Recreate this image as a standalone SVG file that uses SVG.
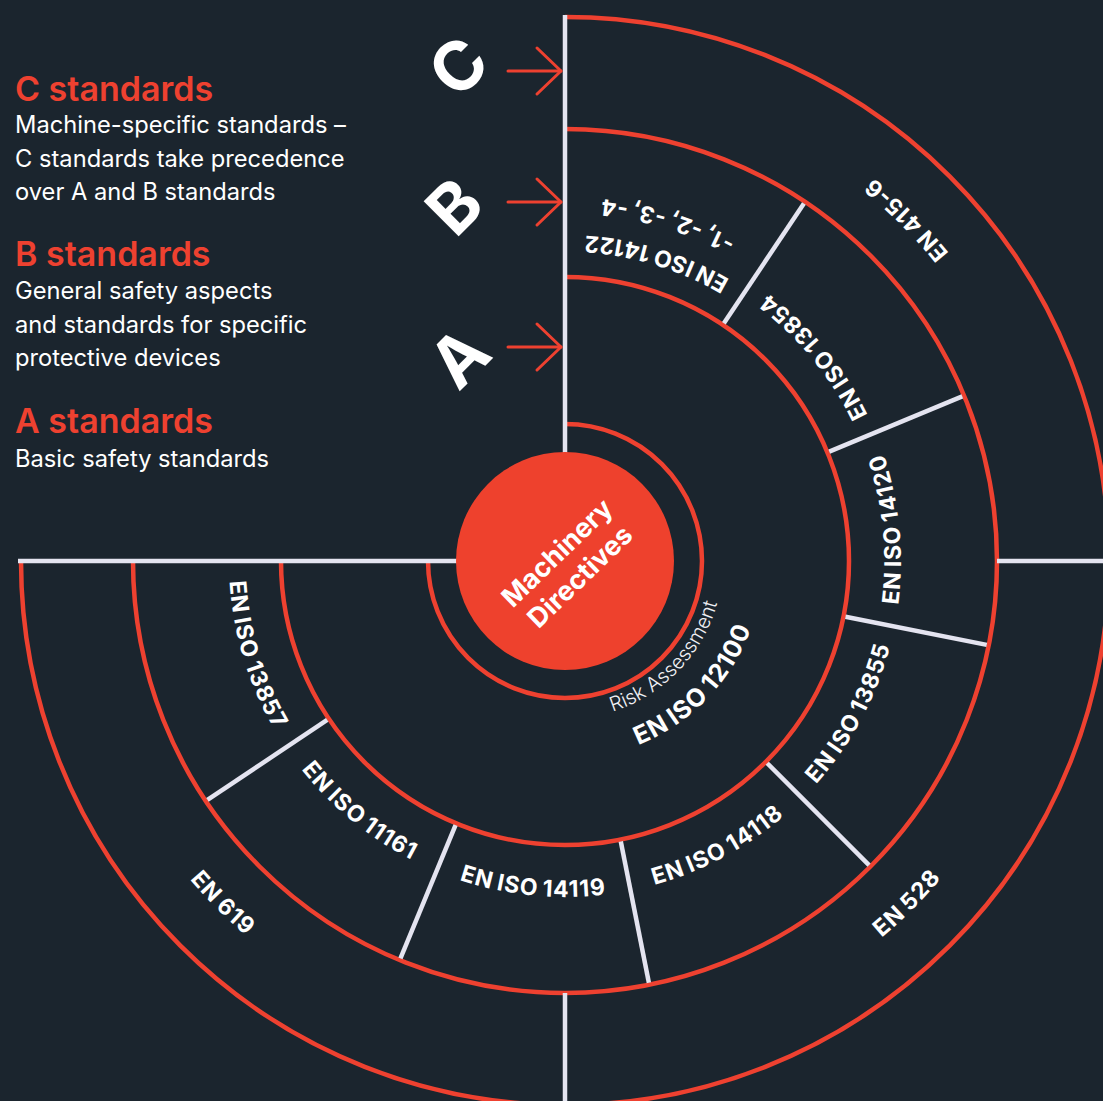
<svg xmlns="http://www.w3.org/2000/svg" xmlns:xlink="http://www.w3.org/1999/xlink" width="1103" height="1101" viewBox="0 0 1103 1101">
  <style>
    .ring { fill: none; stroke: #ee4130; stroke-width: 4.5; }
    .div { stroke: #e4e4f0; stroke-width: 4.5; stroke-linecap: butt; }
    .arrow { fill: none; stroke: #ee4130; stroke-width: 3; stroke-linecap: round; stroke-linejoin: round; }
    .head { font-family: Inter, "Liberation Sans", sans-serif; font-weight: 600; font-size: 34px; fill: #ee4130; }
    .body { font-family: Inter, "Liberation Sans", sans-serif; font-weight: 400; font-size: 23.7px; fill: #ffffff; }
    .big { font-family: Inter, "Liberation Sans", sans-serif; font-weight: 700; font-size: 68px; fill: #ffffff; text-anchor: middle; }
    .lbl { font-family: Inter, "Liberation Sans", sans-serif; font-weight: 700; font-size: 23px; fill: #ffffff; text-anchor: middle; letter-spacing: 1px; word-spacing: -2px; }
    .sub { font-family: Inter, "Liberation Sans", sans-serif; font-weight: 300; font-size: 20px; fill: #f0f0f4; text-anchor: middle; }
    .core { font-family: Inter, "Liberation Sans", sans-serif; font-weight: 700; font-size: 27px; fill: #ffffff; text-anchor: middle; }
  </style>
  <defs>
    <!-- arcs through the top point (0,-r), running counter-clockwise; rotated into place per label -->
    <path id="r158" d="M 136.83 -79 A 158 158 0 0 0 -136.83 -79"/>
    <path id="r198" d="M 171.47 -99 A 198 198 0 0 0 -171.47 -99"/>
    <path id="r326" d="M 282.32 -163 A 326 326 0 0 0 -282.32 -163"/>
    <path id="r336" d="M 290.98 -168 A 336 336 0 0 0 -290.98 -168"/>
    <path id="r364" d="M 315.23 -182 A 364 364 0 0 0 -315.23 -182"/>
    <path id="r492" d="M 426.08 -246 A 492 492 0 0 0 -426.08 -246"/>
  </defs>

  <rect width="1103" height="1101" fill="#1b252e"/>

  <!-- legend -->
  <g id="legend">
    <text class="head" x="15" y="101">C standards</text>
    <text class="body" x="15" y="133">Machine-specific standards –</text>
    <text class="body" x="15" y="167">C standards take precedence</text>
    <text class="body" x="15" y="200">over A and B standards</text>
    <text class="head" x="15" y="266">B standards</text>
    <text class="body" x="15" y="299">General safety aspects</text>
    <text class="body" x="15" y="333">and standards for specific</text>
    <text class="body" x="15" y="366">protective devices</text>
    <text class="head" x="15" y="433">A standards</text>
    <text class="body" x="15" y="467">Basic safety standards</text>
  </g>

  <!-- three-quarter rings -->
  <g id="rings">
    <path class="ring" d="M 565 424 A 137 137 0 1 1 428 561"/>
    <path class="ring" d="M 565 277 A 284 284 0 1 1 281 561"/>
    <path class="ring" d="M 565 129 A 432 432 0 1 1 133 561"/>
    <path class="ring" d="M 565 17 A 544 544 0 1 1 21 561"/>
  </g>

  <!-- connectors: axis lines, segment dividers and level arrows -->
  <g id="connectors">
    <line class="div" x1="565" y1="15" x2="565" y2="453"/>
    <line class="div" x1="18" y1="561" x2="457" y2="561"/>
    <line class="div" x1="997" y1="561" x2="1103" y2="561"/>
    <line class="div" x1="565" y1="993" x2="565" y2="1101"/>
    <g transform="translate(565 561)">
      <line class="div" x1="0" y1="-286" x2="0" y2="-430" transform="rotate(33.75)"/>
      <line class="div" x1="0" y1="-286" x2="0" y2="-430" transform="rotate(67.5)"/>
      <line class="div" x1="0" y1="-286" x2="0" y2="-430" transform="rotate(101.25)"/>
      <line class="div" x1="0" y1="-286" x2="0" y2="-430" transform="rotate(135)"/>
      <line class="div" x1="0" y1="-286" x2="0" y2="-430" transform="rotate(168.75)"/>
      <line class="div" x1="0" y1="-286" x2="0" y2="-430" transform="rotate(202.5)"/>
      <line class="div" x1="0" y1="-286" x2="0" y2="-430" transform="rotate(236.25)"/>
    </g>
    <g id="arrow-c"><line class="arrow" x1="508" y1="71" x2="561" y2="71"/><polyline class="arrow" points="537,48 561,71 537,94"/></g>
    <g id="arrow-b"><line class="arrow" x1="508" y1="202" x2="561" y2="202"/><polyline class="arrow" points="537,179 561,202 537,225"/></g>
    <g id="arrow-a"><line class="arrow" x1="508" y1="347" x2="561" y2="347"/><polyline class="arrow" points="537,324 561,347 537,370"/></g>
  </g>

  <!-- level letters -->
  <g id="level-c"><text class="big" transform="translate(458 66) rotate(-45)" y="24.7">C</text></g>
  <g id="level-b"><text class="big" transform="translate(454 206) rotate(-45)" y="24.7">B</text></g>
  <g id="level-a"><text class="big" transform="translate(459 357) rotate(-45)" y="24.7">A</text></g>

  <!-- core -->
  <g id="machinery-directives">
    <circle cx="565" cy="561" r="109" fill="#ee412d"/>
    <g transform="translate(565 561) rotate(-44)">
      <text class="core" x="0" y="-2">Machinery</text>
      <text class="core" x="0" y="31">Directives</text>
    </g>
  </g>

  <!-- A level -->
  <g id="en-iso-12100" transform="translate(565 561) rotate(134)">
    <text class="sub"><textPath xlink:href="#r158" href="#r158" startOffset="50%">Risk Assessment</textPath></text>
    <text class="lbl" style="font-size:25px"><textPath xlink:href="#r198" href="#r198" startOffset="50%">EN ISO 12100</textPath></text>
  </g>

  <!-- B level -->
  <g id="en-iso-14122" transform="translate(565 561) rotate(16.875)">
    <text class="lbl"><textPath xlink:href="#r326" href="#r326" startOffset="50%">EN ISO 14122</textPath></text>
    <text class="lbl"><textPath xlink:href="#r364" href="#r364" startOffset="50%">-1, -2, -3, -4</textPath></text>
  </g>
  <g id="en-iso-13854" transform="translate(565 561) rotate(50.625)">
    <text class="lbl"><textPath xlink:href="#r336" href="#r336" startOffset="50%">EN ISO 13854</textPath></text>
  </g>
  <g id="en-iso-14120" transform="translate(565 561) rotate(84.375)">
    <text class="lbl"><textPath xlink:href="#r336" href="#r336" startOffset="50%">EN ISO 14120</textPath></text>
  </g>
  <g id="en-iso-13855" transform="translate(565 561) rotate(118.125)">
    <text class="lbl"><textPath xlink:href="#r336" href="#r336" startOffset="50%">EN ISO 13855</textPath></text>
  </g>
  <g id="en-iso-14118" transform="translate(565 561) rotate(151.875)">
    <text class="lbl"><textPath xlink:href="#r336" href="#r336" startOffset="50%">EN ISO 14118</textPath></text>
  </g>
  <g id="en-iso-14119" transform="translate(565 561) rotate(185.625)">
    <text class="lbl"><textPath xlink:href="#r336" href="#r336" startOffset="50%">EN ISO 14119</textPath></text>
  </g>
  <g id="en-iso-11161" transform="translate(565 561) rotate(219.375)">
    <text class="lbl"><textPath xlink:href="#r336" href="#r336" startOffset="50%">EN ISO 11161</textPath></text>
  </g>
  <g id="en-iso-13857" transform="translate(565 561) rotate(253.125)">
    <text class="lbl"><textPath xlink:href="#r336" href="#r336" startOffset="50%">EN ISO 13857</textPath></text>
  </g>

  <!-- C level -->
  <g id="en-415-6" transform="translate(565 561) rotate(45)">
    <text class="lbl"><textPath xlink:href="#r492" href="#r492" startOffset="50%">EN 415-6</textPath></text>
  </g>
  <g id="en-528" transform="translate(565 561) rotate(135)">
    <text class="lbl"><textPath xlink:href="#r492" href="#r492" startOffset="50%">EN 528</textPath></text>
  </g>
  <g id="en-619" transform="translate(565 561) rotate(225)">
    <text class="lbl"><textPath xlink:href="#r492" href="#r492" startOffset="50%">EN 619</textPath></text>
  </g>
</svg>
